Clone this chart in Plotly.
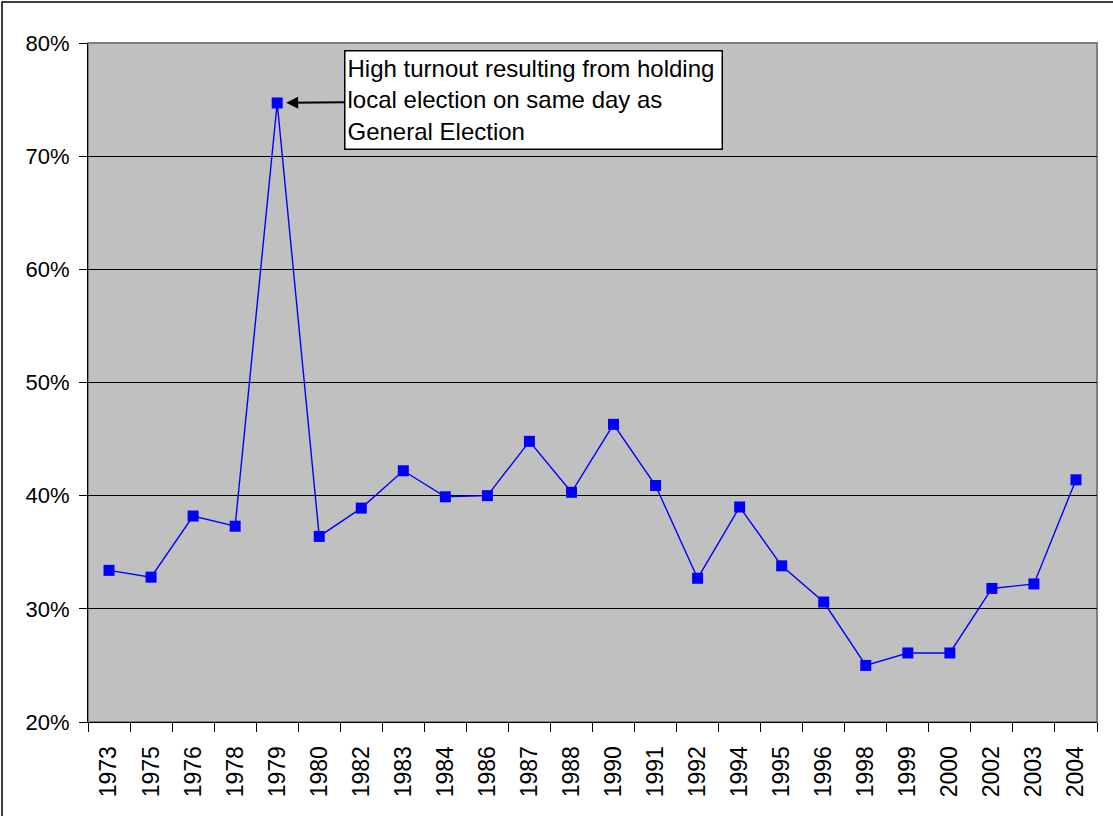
import plotly.graph_objects as go

years = ["1973", "1975", "1976", "1978", "1979", "1980", "1982", "1983", "1984", "1986",
         "1987", "1988", "1990", "1991", "1992", "1994", "1995", "1996", "1998", "1999",
         "2000", "2002", "2003", "2004"]
turnout = [0.334, 0.328, 0.382, 0.373, 0.747, 0.364, 0.389, 0.422, 0.399, 0.400,
           0.448, 0.403, 0.463, 0.409, 0.327, 0.390, 0.338, 0.306, 0.250, 0.261,
           0.261, 0.318, 0.322, 0.414]
y_ticks = [0.2, 0.3, 0.4, 0.5, 0.6, 0.7, 0.8]
y_tick_labels = ["20%", "30%", "40%", "50%", "60%", "70%", "80%"]
note = "High turnout resulting from holding<br>local election on same day as<br>General Election"
note_year = "1979"

W, H = 1113, 816
L, R, T, B = 88, 16, 43, 94
pw, ph = W - L - R, H - T - B

def px(x):
    return (x - L) / pw

def py(y):
    return (H - B - y) / ph

FAM = "Liberation Sans, Arial, sans-serif"
font = dict(family=FAM, size=22, color="black")
xfont = dict(family=FAM, size=23, color="black")

fig = go.Figure()
fig.add_trace(go.Scatter(
    x=years, y=turnout, mode="lines+markers",
    line=dict(color="#0000FF", width=1.4),
    marker=dict(symbol="square", size=11, color="#0000FF"),
    showlegend=False, hoverinfo="x+y",
))

idx = years.index(note_year)

fig.update_layout(
    width=W, height=H,
    margin=dict(l=L, r=R, t=T, b=B, pad=0),
    paper_bgcolor="white", plot_bgcolor="#C0C0C0",
    font=font,
    xaxis=dict(
        type="category", tickson="boundaries", tickangle=-90,
        ticks="outside", ticklen=9, tickcolor="black", tickwidth=1,
        showline=True, linecolor="black", linewidth=1,
        showgrid=False, zeroline=False, tickfont=xfont,
        range=[-0.5, len(years) - 0.5], ticklabelstandoff=14,
    ),
    yaxis=dict(
        range=[0.2, 0.8], tickvals=y_ticks, ticktext=y_tick_labels,
        ticks="outside", ticklen=8, tickcolor="black", tickwidth=1,
        showline=True, linecolor="black", linewidth=1,
        showgrid=True, gridcolor="black", gridwidth=1, zeroline=False,
        tickfont=font, ticklabelstandoff=5,
    ),
    shapes=[
        dict(type="rect", xref="paper", yref="paper", x0=0, x1=1, y0=0, y1=1,
             line=dict(color="#808080", width=2), fillcolor="rgba(0,0,0,0)", layer="below"),
        dict(type="rect", xref="paper", yref="paper",
             x0=px(2), x1=px(1140), y0=py(2), y1=py(840),
             line=dict(color="black", width=1.5), fillcolor="rgba(0,0,0,0)"),
    ],
    annotations=[dict(
        x=idx, y=turnout[idx], xref="x", yref="y",
        ax=256, ay=-3, axref="pixel", ayref="pixel",
        text=note, align="left", showarrow=True,
        arrowhead=2, arrowsize=1.2, arrowwidth=2, arrowcolor="black",
        standoff=9, bgcolor="white", bordercolor="black", borderwidth=1.5,
        borderpad=2, width=372, height=93,
        font=dict(family=FAM, size=24, color="black"),
    )],
)

fig.write_html("out.html", config={"displayModeBar": False},
               post_script="document.body.style.margin='0px';")
